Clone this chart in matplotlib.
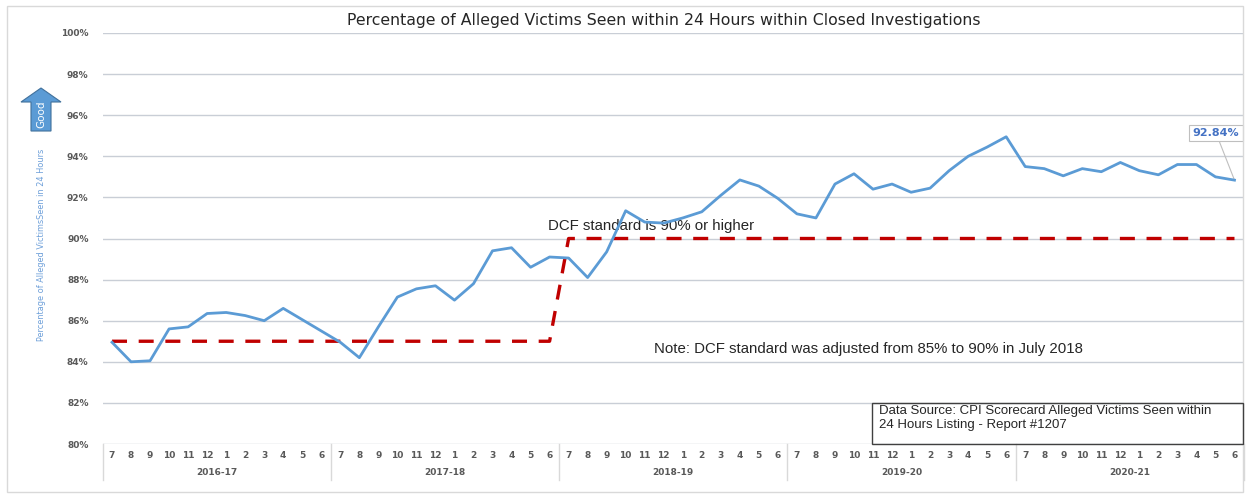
import numpy as np
import matplotlib
matplotlib.use('Agg')
import matplotlib.pyplot as plt
from matplotlib.patches import Polygon, Rectangle
import matplotlib.transforms as mtransforms

# fiscal years and months (July..June)
years = ['2016-17', '2017-18', '2018-19', '2019-20', '2020-21']
months = ['7', '8', '9', '10', '11', '12', '1', '2', '3', '4', '5', '6']

# percent of alleged victims seen within 24 hours
pct_1617 = [84.95, 84.0, 84.05, 85.6, 85.7, 86.35, 86.4, 86.25, 86.0, 86.6, 86.05, 85.5]
pct_1718 = [84.95, 84.2, 85.7, 87.15, 87.55, 87.7, 87.0, 87.8, 89.4, 89.55, 88.6, 89.1]
pct_1819 = [89.05, 88.1, 89.35, 91.35, 90.8, 90.75, 91.0, 91.3, 92.1, 92.85, 92.55, 91.95]
pct_1920 = [91.2, 91.0, 92.65, 93.15, 92.4, 92.65, 92.25, 92.45, 93.3, 94.0, 94.45, 94.95]
pct_2021 = [93.5, 93.4, 93.05, 93.4, 93.25, 93.7, 93.3, 93.1, 93.6, 93.6, 93.0, 92.84]

# DCF standard: 85% until June 2018, 90% from July 2018
std_1617 = [85] * 12
std_1718 = [85] * 12
std_later = [90] * 36

pct = np.array(pct_1617 + pct_1718 + pct_1819 + pct_1920 + pct_2021)
std = np.array(std_1617 + std_1718 + std_later)
x = np.arange(len(pct))

W, H = 1248, 495
fig = plt.figure(figsize=(W / 100, H / 100), dpi=100)
fig.patch.set_facecolor('white')

def px(x0, y0):
    # pixel coords (top-left origin) -> figure fraction
    return x0 / W, 1 - y0 / H

# outer frame
fig.patches.append(Rectangle(px(7, 492), 1236 / W, 486 / H, transform=fig.transFigure,
                             fill=False, edgecolor='#d9d9d9', lw=1))

ax = fig.add_axes([102.5 / W, 1 - 444 / H, (1244 - 102.5) / W, (444 - 33) / H])
ax.set_xlim(-0.5, len(pct) - 0.5)
ax.set_ylim(80, 100)
ax.set_yticks(np.arange(80, 101, 2))
ax.set_yticklabels(['%d%%' % v for v in range(80, 101, 2)], fontsize=6.5,
                   color='#595959', fontweight='bold')
ax.tick_params(axis='y', length=0, pad=10)
ax.set_xticks([])
ax.grid(axis='y', color='#c9ced6', lw=1)
ax.set_axisbelow(True)
for s in ax.spines.values():
    s.set_visible(False)

ax.plot(x, std, color='#c00000', lw=2.4, ls=(0, (4.5, 3.5)), zorder=3)
ax.plot(x, pct, color='#5b9bd5', lw=2, zorder=4)

# category axis: months and fiscal years
tr = mtransforms.blended_transform_factory(ax.transData, ax.transAxes)
for i in x:
    ax.text(i, -0.028, months[i % 12], transform=tr, ha='center', va='center',
            fontsize=6.5, color='#595959', fontweight='bold')
for k, yr in enumerate(years):
    ax.text(k * 12 + 5.5, -0.07, yr, transform=tr, ha='center', va='center',
            fontsize=6.5, color='#595959', fontweight='bold')
for k in range(len(years) + 1):
    ax.plot([k * 12 - 0.5] * 2, [0, -0.087], transform=tr, color='#d9d9d9',
            lw=1, clip_on=False)

# annotations
ax.text(22.9, 90.6, 'DCF standard is 90% or higher', fontsize=10.8,
        family='Liberation Sans', color='#262626', va='center')
ax.text(28.5, 84.6, 'Note: DCF standard was adjusted from 85% to 90% in July 2018',
        fontsize=10.8, family='Liberation Sans', color='#262626', va='center')

ax.annotate('%.2f%%' % pct[-1], xy=(x[-1], pct[-1]), xytext=(1216 / W, 1 - 133 / H),
            textcoords='figure fraction', ha='center', va='center', fontsize=8,
            color='#4472c4', fontweight='bold',
            bbox=dict(boxstyle='square,pad=0.3', fc='white', ec='#bfbfbf', lw=0.8),
            arrowprops=dict(arrowstyle='-', color='#bfbfbf', lw=0.8,
                            shrinkA=0, shrinkB=0))

fig.text(879 / W, 1 - 418 / H,
         'Data Source: CPI Scorecard Alleged Victims Seen within\n24 Hours Listing - Report #1207',
         fontsize=9.5, family='Liberation Sans', color='#262626', va='center', ha='left',
         linespacing=1.25)
fig.patches.append(Rectangle(px(872, 444), (1243 - 872) / W, 41 / H,
                             transform=fig.transFigure, fill=False,
                             edgecolor='#404040', lw=1))

# title
fig.text(664 / W, 1 - 20 / H,
         'Percentage of Alleged Victims Seen within 24 Hours within Closed Investigations',
         ha='center', va='center', fontsize=11.3, color='#262626')

# y label
fig.text(42 / W, 1 - 245 / H, 'Percentage of Alleged VictimsSeen in 24 Hours',
         rotation=90, ha='center', va='center', fontsize=5.9, color='#6d9fd9')

# "Good" arrow
arrow = [px(31, 131), px(31, 102), px(21, 102), px(41, 88), px(61, 102),
         px(51, 102), px(51, 131)]
fig.patches.append(Polygon(arrow, closed=True, transform=fig.transFigure,
                           fc='#5b9bd5', ec='#41719c', lw=0.8))
fig.text(41 / W, 1 - 114 / H, 'Good', rotation=90, ha='center', va='center',
         fontsize=7.5, color='white')

fig.savefig('out.png', dpi=100)
